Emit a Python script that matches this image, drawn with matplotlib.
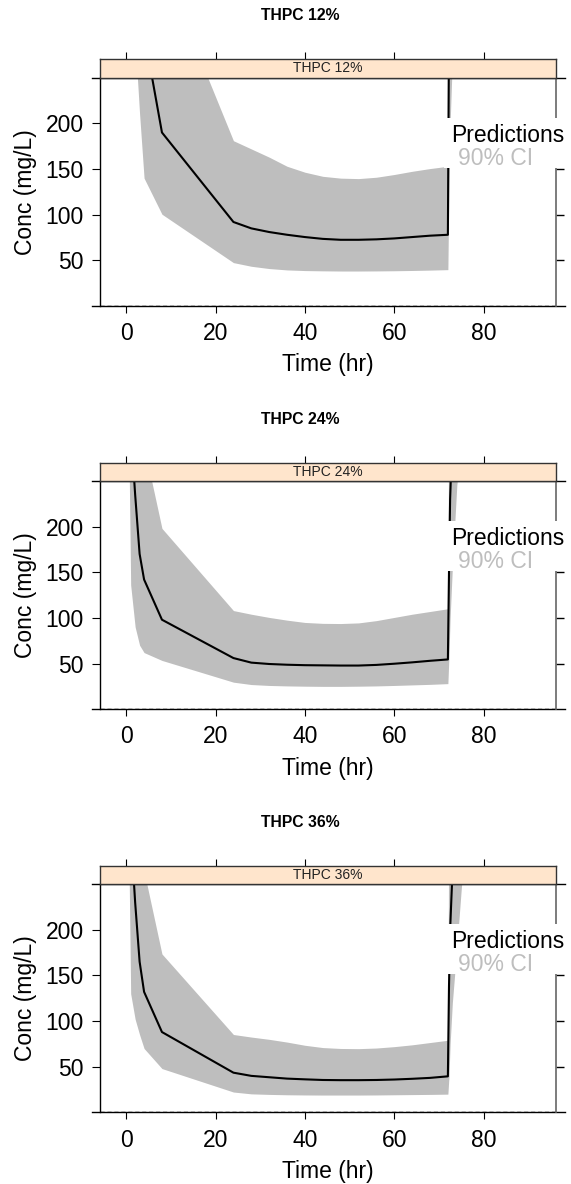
import numpy as np
import matplotlib.pyplot as plt
from matplotlib.patches import Rectangle

plt.rcParams['font.family'] = ['Liberation Sans', 'DejaVu Sans']

# sampling times (hr), shared by all three dose groups
time = [0, 0.5, 1, 2, 3, 4, 8, 24, 28, 32, 36, 40, 44, 48, 52, 56, 60, 64, 68, 72,
        72.25, 72.5, 73, 74, 75, 76]

groups = ['THPC 12%', 'THPC 24%', 'THPC 36%']

# median predictions and 90% CI limits (mg/L)
pred_12 = [460, 445, 430, 390, 345, 299, 190, 92, 85, 81, 78, 75.5, 73.5, 72.5, 72.5, 73, 74, 75.5, 77, 78,
           300, 420, 500, 520, 510, 500]
lo_12 = [420, 390, 360, 290, 210, 140, 100.5, 47.5, 43.5, 41, 39.5, 38.8, 38.5, 38.3, 38.3, 38.4, 38.6, 38.9, 39.3, 39.8,
         140, 200, 270, 330, 350, 350]
hi_12 = [700, 680, 650, 600, 550, 500, 373, 181, 172, 163, 153, 146.5, 142, 140, 139.5, 141, 144, 147.5, 150.5, 153,
         600, 750, 850, 880, 870, 860]

pred_24 = [600, 450, 310, 235, 170, 142, 98, 56, 51, 49.5, 48.7, 48.2, 48, 47.8, 47.8, 48.5, 49.8, 51.3, 53, 54.5,
           150, 230, 300, 330, 330, 320]
lo_24 = [500, 326, 136, 90, 70, 62, 53.4, 29.6, 27, 26, 25.5, 25.2, 25, 25, 25.2, 25.5, 26, 26.6, 27.2, 28,
         60, 100, 155, 245, 290, 300]
hi_24 = [900, 750, 600, 450, 350, 288, 198, 108, 104, 100.5, 97.5, 95, 94, 93.8, 94.5, 97, 100.5, 104, 107, 110,
         400, 500, 600, 650, 640, 620]

pred_36 = [600, 450, 310, 230, 165, 132, 88, 43.5, 40, 38.5, 37, 36.2, 35.5, 35.3, 35.3, 35.5, 36, 36.8, 37.8, 39.5,
           138, 200, 260, 300, 310, 300]
lo_36 = [500, 320, 130, 102, 85, 70, 48, 22.3, 20.3, 19.7, 19.3, 19.1, 19, 19, 19, 19.1, 19.3, 19.5, 19.7, 20,
         40, 75, 120, 180, 245, 300]
hi_36 = [900, 700, 550, 400, 320, 264, 173.5, 85.3, 82.5, 80, 77, 73.5, 71, 70, 69.8, 70.5, 72, 74, 76.5, 79,
         400, 500, 600, 650, 640, 620]

preds = [pred_12, pred_24, pred_36]
lows = [lo_12, lo_24, lo_36]
highs = [hi_12, hi_24, hi_36]

xticks = [0, 20, 40, 60, 80]
yticks = [50, 100, 150, 200]

W, H = 571, 1184
fig = plt.figure(figsize=(W / 100, H / 100), dpi=100)


def box(x0, y0, x1, y1):
    # pixel box measured from the top-left corner -> figure rect
    return [x0 / W, 1 - y1 / H, (x1 - x0) / W, (y1 - y0) / H]


band = '#BEBEBE'
edge = '#666666'
fs = 16.5

for k, name in enumerate(groups):
    dy = 403.2 * k

    ax = fig.add_axes(box(100.3, 77.7 + dy, 556, 306 + dy))
    ax.fill_between(time, lows[k], highs[k], color=band, lw=0)
    ax.plot(time, preds[k], color='black', lw=1.5)
    ax.axhline(0, color='black', lw=1, ls=(0, (3, 2)))
    ax.set_xlim(-5.8, 96.2)
    ax.set_ylim(0, 250)

    ax.spines['top'].set_visible(False)
    ax.spines['bottom'].set_visible(False)
    ax.spines['left'].set_linewidth(1)
    ax.spines['right'].set_color(edge)
    ax.spines['right'].set_linewidth(1.2)
    # axis lines at the panel top and bottom run a little past the frame
    for yv in (0, 1):
        ax.plot([-0.019, 1.02], [yv, yv], transform=ax.transAxes, clip_on=False,
                color='black', lw=1)

    ax.set_xticks(xticks)
    ax.set_yticks(yticks)
    ax.tick_params(axis='y', direction='out', length=6, width=0.8, labelsize=fs, pad=6,
                   right=True)
    ax.tick_params(axis='x', direction='out', length=5.3, width=0.8, labelsize=fs, pad=6.3)
    # right-hand ticks are grey like the right frame
    for t in ax.yaxis.get_major_ticks():
        t.tick2line.set_color(edge)
        t.tick2line.set_markeredgewidth(1)

    ax.set_xlabel('Time (hr)', fontsize=fs, va='center')
    ax.xaxis.set_label_coords(0.5, -0.258)
    ax.set_ylabel('Conc (mg/L)', fontsize=fs, va='center')
    ax.yaxis.set_label_coords(-0.1635, 0.5)

    # strip
    sax = fig.add_axes(box(100.3, 59.3 + dy, 556, 77.7 + dy))
    sax.set_facecolor('#FFE5CC')
    sax.set_xlim(-5.8, 96.2)
    sax.set_xticks(xticks)
    sax.set_yticks([])
    sax.tick_params(axis='x', bottom=False, labelbottom=False, top=True,
                    direction='out', length=5, width=0.8)
    for s in sax.spines.values():
        s.set_color('#333333')
        s.set_linewidth(1)
    sax.text(0.5, 0.5, name, transform=sax.transAxes, ha='center', va='center',
             fontsize=10, color='#222222')

    fig.text(300 / W, 1 - (16 + dy) / H, name, ha='center', va='center',
             fontsize=11.3, fontweight='bold')

    # key
    fig.patches.append(Rectangle((444 / W, 1 - (167.5 + dy) / H), (W - 444) / W, 49.5 / H,
                                 transform=fig.transFigure, facecolor='white',
                                 edgecolor='none', zorder=5))
    fig.text(451 / W, 1 - (141.7 + dy) / H, 'Predictions', va='baseline',
             fontsize=fs, color='black', zorder=6)
    fig.text(458.3 / W, 1 - (165 + dy) / H, '90% CI', va='baseline',
             fontsize=fs, color=band, zorder=6)

fig.savefig('out.png', dpi=100)
